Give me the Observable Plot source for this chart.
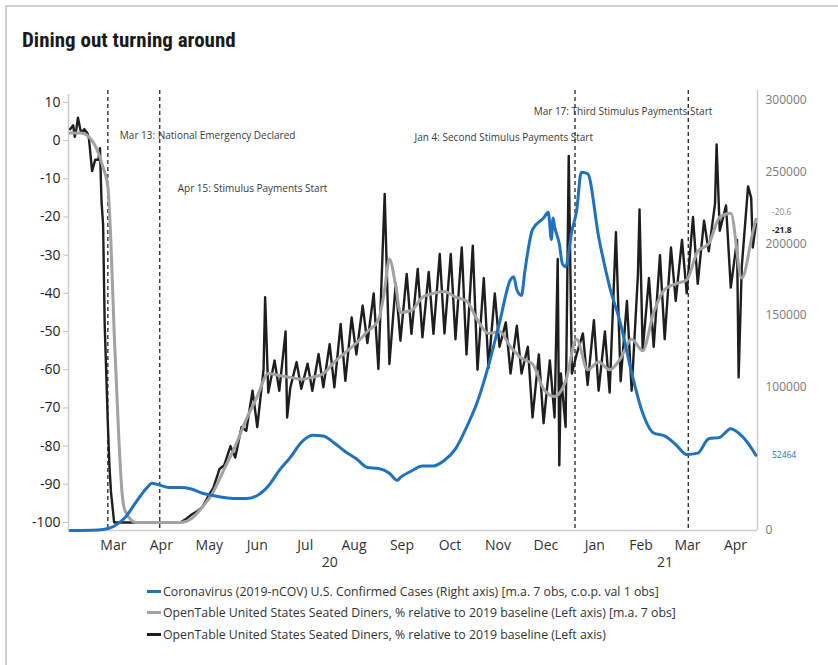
<!DOCTYPE html>
<html>
<head>
<meta charset="utf-8">
<script src="https://cdn.jsdelivr.net/npm/d3@7"></script>
<script src="https://cdn.jsdelivr.net/npm/@observablehq/plot@0.6"></script>
<style>
  html, body { margin: 0; padding: 0; background: #fff; }
  #wrap { position: relative; width: 838px; height: 665px; overflow: hidden; background: #fff; }
  #frame { position: absolute; left: 5px; top: 5px; width: 900px; height: 700px;
           border-top: 2px solid #d0d0d0; border-left: 2px solid #d0d0d0; }
  #title { position: absolute; left: 22px; top: 27px; line-height: 26px;
           font-family: "Roboto Condensed", "Liberation Sans Narrow", "DejaVu Sans Condensed", Roboto, sans-serif;
           font-stretch: condensed; font-weight: 700; font-size: 21px; color: #1a1a1a; }
  #chart { position: absolute; left: 0; top: 0; }
  #legend { position: absolute; left: 147px; top: 581px;
            font-family: "Open Sans", "Noto Sans", sans-serif; font-size: 12.3px; color: #333; }
  .row { height: 21.3px; display: flex; align-items: center; white-space: nowrap; }
  .sw { width: 14px; height: 3px; margin-right: 2px; flex: none; }
</style>
</head>
<body>
<div id="wrap">
  <div id="frame"></div>
  <div id="chart"></div>
  <div id="title">Dining out turning around</div>
  <div id="legend"></div>
</div>
<script>
// ---------------- data ----------------
// Weekly observations start on Tuesday 2020-02-18
const weekStart = "2020-02-18";

// Coronavirus U.S. confirmed cases, 7-day moving average (right axis), one value per week
const casesWeekly = [
  0, 0, 100, 700, 3000, 9000, 20000, 30000, 32000, 30000,
  30000, 29000, 26000, 24400, 23000, 22300, 22300, 24400, 31000, 42000,
  51000, 61500, 66500, 66000, 61000, 55000, 50000, 44000, 43300, 40000,
  37000, 41500, 45000, 45000, 49000, 57000, 72000, 90000, 115000, 145000,
  175000, 164000, 210000, 218000, 212000, 184000, 223000, 249000, 205000, 170000,
  144000, 110000, 82000, 68000, 66000, 60000, 53000, 54000, 64000, 65000,
  71000, 66000, 56000
];
// Extra dated readings of the cases line (holiday notches, peaks)
const casesExtra = [
  ["2020-04-10", 33000], ["2020-09-13", 35000], ["2020-11-26", 177000], ["2020-11-28", 168000],
  ["2020-12-03", 180000], ["2020-12-18", 222000], ["2020-12-20", 203000], ["2020-12-21", 218000],
  ["2020-12-25", 200000], ["2020-12-27", 186000], ["2021-01-02", 209000], ["2021-01-08", 250000]
];

// OpenTable seated diners, % vs 2019, 7-day moving average (left axis), one value per week
const ma7Weekly = [
  2, 2, 0, -7, -50, -97, -100, -100, -100, -100,
  -100, -99, -96, -92, -86, -80, -73, -67, -61, -61.5,
  -62, -62.5, -62, -61, -58, -55.5, -53, -50, -47, -31,
  -45, -44.5, -41, -40, -39.5, -41, -42, -47, -50.5, -50,
  -54, -57, -58.5, -65, -67, -63, -52, -60, -58, -60,
  -57, -52, -55, -45, -39, -37.5, -36.5, -29, -27, -20,
  -19, -36, -24
];
const ma7Extra = [
  ["2020-03-13", -12], ["2020-03-15", -27], ["2020-03-20", -78], ["2020-03-22", -92],
  ["2020-09-05", -39], ["2020-09-12", -38]
];

// OpenTable seated diners daily (left axis): weekly low (Tuesday) and weekly high (Saturday)
const dinersTuesday = [
  3, 2, -8, -22, -100, -100, -100, -100, -100, -100,
  -100, -98, -96, -91, -85, -83, -76, -75, -66, -65.5,
  -64.7, -65, -65.5, -64.6, -64.6, -62.9, -56, -53, -59.8, -58.5,
  -52.4, -50.6, -51.5, -50.6, -50.5, -52, -56, -60, -59.5, -54,
  -61, -61, -72.5, -74, -72.5, -75, -56, -64, -65.5, -66,
  -63, -65.5, -55, -54, -52, -42, -40, -37.5, -29, -23.6,
  -38.5, -33, -28
];
const dinersSaturday = [
  3, 2, -5, -85, -100, -100, -100, -100, -100, -100,
  -99, -97, -93, -86, -80, -75, -65.5, -60, -57.6, -50,
  -58, -58.4, -55.9, -53.3, -48, -46.3, -43.2, -40, -14, -37.5,
  -34.9, -33.6, -34.4, -29.7, -29.7, -28, -27.5, -36, -40, -47.6,
  -48.5, -54, -56, -57.6, -61, -61, -50.5, -47, -50, -24,
  -42, -35, -36, -30, -28, -26, -20, -21, -16.5, -17,
  -26, -12
];
// Other single days (early noise, holidays)
const dinersExtra = [
  ["2020-02-20", 4], ["2020-02-21", 1], ["2020-02-23", 6], ["2020-02-27", 3], ["2020-03-01", 0.5],
  ["2020-03-05", -5], ["2020-03-08", -2], ["2020-03-09", -16], ["2020-03-11", -48], ["2020-03-13", -74],
  ["2020-03-15", -92], ["2020-06-21", -41], ["2020-07-05", -72.5], ["2020-12-24", -31], ["2020-12-25", -85],
  ["2020-12-31", -4], ["2021-02-14", -18], ["2021-04-04", -1], ["2021-04-18", -62], ["2021-04-26", -15]
];

// Last observation (end labels)
const lastDate = "2021-04-29";
const lastCases = 52464;
const lastMa7 = -20.6;
const lastDaily = -21.8;

// Event annotations
const events = [
  {date: "2020-03-13", label: "Mar 13: National Emergency Declared"},
  {date: "2020-04-15", label: "Apr 15: Stimulus Payments Start"},
  {date: "2021-01-04", label: "Jan 4: Second Stimulus Payments Start"},
  {date: "2021-03-17", label: "Mar 17: Third Stimulus Payments Start"}
];

// Axes
const monthTicks = ["2020-03","2020-04","2020-05","2020-06","2020-07","2020-08","2020-09",
                    "2020-10","2020-11","2020-12","2021-01","2021-02","2021-03","2021-04"];
const years = ["20", "21"];
const leftTicks = [-100, -90, -80, -70, -60, -50, -40, -30, -20, -10, 0, 10];
const rightTicks = [0, 100000, 150000, 200000, 250000, 300000];
const legendItems = [
  "Coronavirus (2019-nCOV) U.S. Confirmed Cases (Right axis) [m.a. 7 obs, c.o.p. val 1 obs]",
  "OpenTable United States Seated Diners, % relative to 2019 baseline (Left axis) [m.a. 7 obs]",
  "OpenTable United States Seated Diners, % relative to 2019 baseline (Left axis)"
];

// ---------------- layout / style ----------------
const colors = {cases: "#1f73be", ma7: "#a2a2a2", daily: "#1e1e1e"};
const xDomain = [new Date("2020-02-17"), new Date("2021-04-30")];
const yDomain = [-102.1, 10.5];
const casesMax = 300000;
const toLeft = c => yDomain[0] + c / casesMax * (yDomain[1] - yDomain[0]);
const fromLeft = v => (v - yDomain[0]) / (yDomain[1] - yDomain[0]) * casesMax;
const annotationLayout = [
  {dx: 12, dy: 31, anchor: "start"},
  {dx: 18, dy: 84, anchor: "start"},
  {dx: 18, dy: 33, anchor: "end"},
  {dx: 24, dy: 7, anchor: "end"}
];

// ---------------- build tables ----------------
const t0 = new Date(weekStart);
const wk = i => d3.utcDay.offset(t0, 7 * i);
function merge(rows) {
  const m = new Map();
  for (const r of rows) m.set(+r.date, r);
  return [...m.values()].sort((a, b) => a.date - b.date);
}
const casesData = merge([
  ...casesWeekly.map((v, i) => ({date: wk(i), value: v})),
  ...casesExtra.map(([d, v]) => ({date: new Date(d), value: v})),
  {date: new Date(lastDate), value: lastCases}
]);
const ma7Data = merge([
  ...ma7Weekly.map((v, i) => ({date: wk(i), value: v})),
  ...ma7Extra.map(([d, v]) => ({date: new Date(d), value: v})),
  {date: new Date(lastDate), value: lastMa7}
]);
const dailyData = merge([
  ...dinersTuesday.map((v, i) => ({date: wk(i), value: v})),
  ...dinersSaturday.map((v, i) => ({date: d3.utcDay.offset(wk(i), 4), value: v})),
  ...dinersExtra.map(([d, v]) => ({date: new Date(d), value: v})),
  {date: new Date(lastDate), value: lastDaily}
]);
const monthMid = monthTicks.map(m => {
  const a = new Date(m + "-01");
  const b = d3.utcMonth.offset(a, 1);
  return new Date((+a + +b) / 2);
});
const yearPos = years.map(y => {
  const mids = monthMid.filter(d => String(d.getUTCFullYear()).slice(2) === y);
  return {label: y, date: new Date((+mids[0] + +mids[mids.length - 1]) / 2)};
});
const endLabels = [
  {value: lastMa7, text: String(lastMa7), fill: "#8a8a8a", weight: "normal", dy: -7},
  {value: lastDaily, text: String(lastDaily), fill: "#2a1f1f", weight: "bold", dy: 6},
  {value: toLeft(lastCases), text: String(lastCases), fill: colors.cases, weight: "normal", dy: 0}
];

// ---------------- plot ----------------
const font = "'Open Sans', 'Noto Sans', sans-serif";
const chart = Plot.plot({
  width: 838,
  height: 580,
  marginTop: 100,
  marginBottom: 50,
  marginLeft: 68,
  marginRight: 81,
  x: {type: "utc", domain: xDomain},
  y: {domain: yDomain},
  style: {fontFamily: font, background: "transparent", overflow: "visible"},
  marks: [
    Plot.ruleY([yDomain[0]], {stroke: "#cdcdcd", strokeWidth: 1.5}),
    Plot.ruleX([xDomain[0]], {stroke: "#cdcdcd", strokeWidth: 1.5, insetTop: -6}),
    Plot.ruleX([xDomain[1]], {stroke: "#cdcdcd", strokeWidth: 1.5, insetTop: -10}),
    Plot.axisY(leftTicks, {anchor: "left", tickSize: 5, tickPadding: 3, stroke: "#c4c4c4",
      fill: "#222", fontSize: 14, label: null, tickFormat: d => String(d)}),
    Plot.axisY(rightTicks.map(toLeft), {anchor: "right", tickSize: 0, tickPadding: 8,
      fill: "#7a7a7a", fontSize: 12, label: null,
      tickFormat: v => String(Math.round(fromLeft(v) / 1000) * 1000)}),
    Plot.axisX(monthMid, {anchor: "bottom", tickSize: 0, tickPadding: 10, fill: "#333",
      fontSize: 14, tickFormat: d3.utcFormat("%b"), label: null}),
    Plot.text(yearPos, {x: "date", text: "label", frameAnchor: "bottom", dy: 36,
      fill: "#333", fontSize: 14}),
    Plot.ruleX(events, {x: d => new Date(d.date), stroke: "#333", strokeWidth: 1.4,
      strokeDasharray: "4,3", insetTop: -10}),
    ...events.map((e, i) => Plot.text([e], {x: d => new Date(d.date), text: "label",
      frameAnchor: "top", dx: annotationLayout[i].dx, dy: annotationLayout[i].dy,
      textAnchor: annotationLayout[i].anchor, fill: "#3a3a3a", fontSize: 10})),
    Plot.line(dailyData, {x: "date", y: "value", stroke: colors.daily, strokeWidth: 2.4,
      strokeLinejoin: "round"}),
    Plot.line(ma7Data, {x: "date", y: "value", stroke: colors.ma7, strokeWidth: 3,
      strokeLinejoin: "round", curve: "monotone-x"}),
    Plot.line(casesData, {x: "date", y: d => toLeft(d.value), stroke: colors.cases,
      strokeWidth: 3, strokeLinejoin: "round", curve: "monotone-x"}),
    ...endLabels.map(l => Plot.text([l], {x: () => new Date(lastDate), y: "value", text: "text",
      dx: 16, dy: l.dy, textAnchor: "start", fill: l.fill, fontWeight: l.weight, fontSize: 8.5}))
  ]
});
document.getElementById("chart").appendChild(chart);

const legend = document.getElementById("legend");
[colors.cases, colors.ma7, colors.daily].forEach((c, i) => {
  const row = document.createElement("div");
  row.className = "row";
  const sw = document.createElement("span");
  sw.className = "sw";
  sw.style.background = c;
  const tx = document.createElement("span");
  tx.textContent = legendItems[i];
  row.appendChild(sw);
  row.appendChild(tx);
  legend.appendChild(row);
});
</script>
</body>
</html>
